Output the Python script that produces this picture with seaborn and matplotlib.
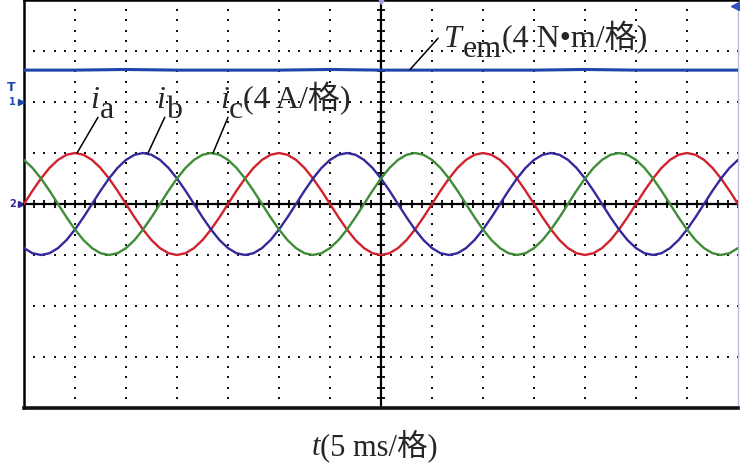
import numpy as np
import pandas as pd
import matplotlib
matplotlib.use('Agg')
import matplotlib.pyplot as plt
import seaborn as sns

sns.set_theme(style='white')
plt.rcParams['font.family'] = ['Liberation Serif', 'Noto Sans CJK SC', 'DejaVu Sans']

TIME_MS = np.linspace(0, 70, 85)
I_A = [0.0, 1.04, 2.0, 2.83, 3.46, 3.86, 4.0, 3.86, 3.46, 2.83, 2.0, 1.04,
       0.0, -1.04, -2.0, -2.83, -3.46, -3.86, -4.0, -3.86, -3.46, -2.83, -2.0, -1.04,
       0.0, 1.04, 2.0, 2.83, 3.46, 3.86, 4.0, 3.86, 3.46, 2.83, 2.0, 1.04,
       0.0, -1.04, -2.0, -2.83, -3.46, -3.86, -4.0, -3.86, -3.46, -2.83, -2.0, -1.04,
       0.0, 1.04, 2.0, 2.83, 3.46, 3.86, 4.0, 3.86, 3.46, 2.83, 2.0, 1.04,
       0.0, -1.04, -2.0, -2.83, -3.46, -3.86, -4.0, -3.86, -3.46, -2.83, -2.0, -1.04,
       0.0, 1.04, 2.0, 2.83, 3.46, 3.86, 4.0, 3.86, 3.46, 2.83, 2.0, 1.04, 0.0]
I_B = [-3.46, -3.86, -4.0, -3.86, -3.46, -2.83, -2.0, -1.04, 0.0, 1.04, 2.0, 2.83,
       3.46, 3.86, 4.0, 3.86, 3.46, 2.83, 2.0, 1.04, 0.0, -1.04, -2.0, -2.83,
       -3.46, -3.86, -4.0, -3.86, -3.46, -2.83, -2.0, -1.04, 0.0, 1.04, 2.0, 2.83,
       3.46, 3.86, 4.0, 3.86, 3.46, 2.83, 2.0, 1.04, 0.0, -1.04, -2.0, -2.83,
       -3.46, -3.86, -4.0, -3.86, -3.46, -2.83, -2.0, -1.04, 0.0, 1.04, 2.0, 2.83,
       3.46, 3.86, 4.0, 3.86, 3.46, 2.83, 2.0, 1.04, 0.0, -1.04, -2.0, -2.83,
       -3.46, -3.86, -4.0, -3.86, -3.46, -2.83, -2.0, -1.04, 0.0, 1.04, 2.0, 2.83, 3.46]
I_C = [3.46, 2.83, 2.0, 1.04, 0.0, -1.04, -2.0, -2.83, -3.46, -3.86, -4.0, -3.86,
       -3.46, -2.83, -2.0, -1.04, 0.0, 1.04, 2.0, 2.83, 3.46, 3.86, 4.0, 3.86,
       3.46, 2.83, 2.0, 1.04, 0.0, -1.04, -2.0, -2.83, -3.46, -3.86, -4.0, -3.86,
       -3.46, -2.83, -2.0, -1.04, 0.0, 1.04, 2.0, 2.83, 3.46, 3.86, 4.0, 3.86,
       3.46, 2.83, 2.0, 1.04, 0.0, -1.04, -2.0, -2.83, -3.46, -3.86, -4.0, -3.86,
       -3.46, -2.83, -2.0, -1.04, 0.0, 1.04, 2.0, 2.83, 3.46, 3.86, 4.0, 3.86,
       3.46, 2.83, 2.0, 1.04, 0.0, -1.04, -2.0, -2.83, -3.46, -3.86, -4.0, -3.86, -3.46]

# electromagnetic torque, N*m
TORQUE_T = [0, 5, 10, 15, 20, 25, 30, 35, 40, 45, 50, 55, 60, 65, 70]
TORQUE_NM = [2.5, 2.5, 2.55, 2.5, 2.5, 2.5, 2.55, 2.5, 2.5, 2.5, 2.5, 2.55, 2.5, 2.5, 2.5]

PHASES = ['a', 'b', 'c']
COLORS = {'a': '#d0222c', 'b': '#34299c', 'c': '#3f8c36'}
T_COLOR = '#1f45a8'

# scope screen: 14 x 8 divisions, 5 ms/div, 4 A/div, 4 N*m/div
X_DIV, Y_DIV, T_DIV = 5.0, 4.0, 4.0
N_X, N_Y = 14, 8

FS = 23
SERIF = ['Liberation Serif', 'Noto Sans CJK SC']

df = pd.DataFrame({
    't': np.concatenate([TIME_MS] * 3),
    'i': I_A + I_B + I_C,
    'phase': np.repeat(PHASES, len(TIME_MS)),
})

fig = plt.figure(figsize=(7.4, 4.65), dpi=100)
ax = fig.add_axes([24 / 740, 57 / 465, 714 / 740, 408 / 465])
x_max = N_X * X_DIV
y_max = N_Y / 2 * Y_DIV
ax.set_xlim(0, x_max)
ax.set_ylim(-y_max, y_max)

# dotted graticule
dot = dict(ls='none', marker='s', ms=1.7, mew=0, color='#151515', zorder=1)
ys = np.arange(-y_max, y_max + 0.01, Y_DIV / 5)
for k in range(1, N_X):
    if k == N_X // 2:
        continue
    ax.plot(np.full_like(ys, k * X_DIV), ys, **dot)
xs = np.arange(0, x_max + 0.01, X_DIV / 5)
for k in range(1, N_Y):
    if k == N_Y // 2:
        continue
    yv = -y_max + k * Y_DIV
    ax.plot(xs, np.full_like(xs, yv), **dot)

# centre axes with minor ticks
ax.axhline(0, color='black', lw=1.6, zorder=2)
ax.axvline(x_max / 2, color='black', lw=1.6, zorder=2)
ax.plot(xs, np.zeros_like(xs), ls='none', marker='|', ms=6, mew=1.3, color='black', zorder=2)
ax.plot(np.full_like(ys, x_max / 2), ys, ls='none', marker='_', ms=6, mew=1.3, color='black', zorder=2)

sns.lineplot(data=df, x='t', y='i', hue='phase', palette=COLORS, estimator=None,
             sort=False, legend=False, lw=1.7, ax=ax, zorder=3)

ax.set_xticks([])
ax.set_yticks([])
ax.set_xlabel('')
ax.set_ylabel('')
for side in ['left', 'top']:
    ax.spines[side].set_color('black')
    ax.spines[side].set_linewidth(1.8)
ax.spines['bottom'].set_color('#111111')
ax.spines['bottom'].set_linewidth(2.6)
ax.spines['right'].set_color('#b8c0d8')
ax.spines['right'].set_linewidth(1.0)

# torque channel, its ground sits 2 div above centre
ax2 = ax.twinx()
ax2.set_ylim(-(N_Y / 2 + 2) * T_DIV, (N_Y / 2 - 2) * T_DIV)
sns.lineplot(x=TORQUE_T, y=TORQUE_NM, ax=ax2, color=T_COLOR, lw=2.2)
ax2.set_yticks([])
ax2.set_ylabel('')
for s in ax2.spines.values():
    s.set_visible(False)


def label(axis, x, y, main, sub, tail=None):
    t1 = axis.text(x, y, main, fontsize=FS, style='italic', family=SERIF,
                   ha='left', va='baseline', zorder=5)
    t2 = axis.annotate(sub, xy=(1, 0), xycoords=t1, xytext=(0.3, -7),
                       textcoords='offset points', fontsize=FS, family=SERIF,
                       ha='left', va='bottom', zorder=5)
    if tail:
        axis.annotate(tail, xy=(1, 0), xycoords=(t2, t1), fontsize=FS, family=SERIF,
                      ha='left', va='bottom', zorder=5)


label(ax, 6.5, 7.5, 'i', 'a')
label(ax, 13.0, 7.5, 'i', 'b')
label(ax, 19.2, 7.5, 'i', 'c', '(4 A/格)')
label(ax2, 41.2, 4.3, 'T', 'em', '(4 N•m/格)')

# pointer lines
for (x0, y0), (x1, y1) in [((7.25, 6.8), (5.2, 4.0)),
                           ((13.8, 6.8), (12.16, 4.0)),
                           ((20.0, 6.8), (18.53, 4.0))]:
    ax.plot([x0, x1], [y0, y1], color='black', lw=1.1, zorder=4)
ax2.plot([40.6, 37.85], [5.0, 2.55], color='black', lw=1.1, zorder=4)

# channel markers
ytr = ax.get_yaxis_transform()
ax.plot([-0.004], [0], marker='>', ms=4, color='#34299c', transform=ytr, clip_on=False)
ax.text(-0.011, 0, '2', fontsize=7, color='#34299c', family='DejaVu Sans', fontweight='bold',
        ha='right', va='center', transform=ytr)
ytr2 = ax2.get_yaxis_transform()
ax2.plot([-0.004], [0], marker='>', ms=4, color=T_COLOR, transform=ytr2, clip_on=False)
ax2.text(-0.011, 0, '1', fontsize=7, color=T_COLOR, family='DejaVu Sans', fontweight='bold',
         ha='right', va='center', transform=ytr2)
ax2.text(-0.018, 0.6, 'T', fontsize=9, color=T_COLOR, family='DejaVu Sans', fontweight='bold',
         ha='center', va='bottom', transform=ytr2)
ax.plot([x_max / 2], [y_max], marker='v', ms=6, color='#a0a0e0', clip_on=False, zorder=6)
ax.plot([x_max - 0.3], [y_max - 0.5], marker='<', ms=6, color='#3050c0', clip_on=False, zorder=6)

# time base caption
tl = fig.text(312 / 740, 1 - 455 / 465, 't', fontsize=22, style='italic', family=SERIF,
              ha='left', va='baseline')
ax.annotate('(5 ms/格)', xy=(1, 0), xycoords=tl, fontsize=22, family=SERIF,
            ha='left', va='bottom', annotation_clip=False)

fig.savefig('out.png', dpi=100)
